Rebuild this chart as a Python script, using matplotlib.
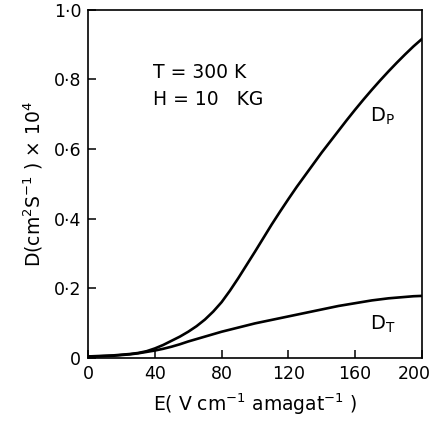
import matplotlib
matplotlib.use("Agg")
import matplotlib.pyplot as plt
from matplotlib.transforms import ScaledTranslation

# dane (co 5 jednostek pola E)
pole_E = list(range(0, 205, 5))
D_P = [0.004, 0.005, 0.006, 0.007, 0.009, 0.011, 0.014, 0.019, 0.027, 0.037,
       0.049, 0.061, 0.075, 0.091, 0.110, 0.133, 0.160, 0.193, 0.229, 0.267,
       0.305, 0.344, 0.383, 0.420, 0.456, 0.491, 0.524, 0.557, 0.590, 0.621,
       0.652, 0.683, 0.713, 0.742, 0.770, 0.797, 0.823, 0.848, 0.872, 0.895, 0.916]
D_T = [0.003, 0.004, 0.005, 0.006, 0.008, 0.010, 0.013, 0.017, 0.021, 0.026,
       0.032, 0.039, 0.047, 0.054, 0.061, 0.068, 0.075, 0.081, 0.087, 0.093,
       0.099, 0.104, 0.109, 0.114, 0.119, 0.124, 0.129, 0.134, 0.139, 0.144,
       0.149, 0.153, 0.157, 0.161, 0.165, 0.168, 0.171, 0.173, 0.175, 0.177, 0.178]

x_ticki = [0, 40, 80, 120, 160, 200]
y_ticki = [0, 0.2, 0.4, 0.6, 0.8, 1.0]
y_etykiety = ["0", "0·2", "0·4", "0·6", "0·8", "1·0"]

plt.rcParams["font.family"] = ["DejaVu Sans"]
plt.rcParams["mathtext.fontset"] = "dejavusans"

fig = plt.figure(figsize=(4.34, 4.26), dpi=100)
ax = fig.add_axes([0.203, 0.160, 0.769, 0.817])

ax.plot(pole_E, D_P, color="black", linewidth=1.9)
ax.plot(pole_E, D_T, color="black", linewidth=1.9)

ax.set_xlim(0, 200)
ax.set_ylim(0, 1.0)
ax.set_xticks(x_ticki)
ax.set_yticks(y_ticki)
ax.set_yticklabels(y_etykiety)
ax.tick_params(direction="in", length=6, width=1.1, labelsize=12.5, pad=5)
for s in ax.spines.values():
    s.set_linewidth(1.2)

# ostatnia etykieta osi x przesunieta w lewo, jak w oryginale
ostatnia = ax.get_xticklabels()[-1]
ostatnia.set_transform(ostatnia.get_transform() + ScaledTranslation(-8 / 100, 0, fig.dpi_scale_trans))

ax.set_xlabel(r"E( V cm$^{-1}$ amagat$^{-1}$ )", fontsize=13.5, labelpad=6)
ax.set_ylabel(r"D(cm$^{2}$S$^{-1}$ ) $\times$ 10$^{4}$", fontsize=13.5, labelpad=6)

ax.text(39, 0.805, "T = 300 K", fontsize=13.5)
ax.text(39, 0.727, "H = 10   KG", fontsize=13.5)
ax.text(169, 0.678, r"D$_{\rm P}$", fontsize=14)
ax.text(169, 0.08, r"D$_{\rm T}$", fontsize=14)

fig.savefig("out.png", dpi=100)
plt.close(fig)
